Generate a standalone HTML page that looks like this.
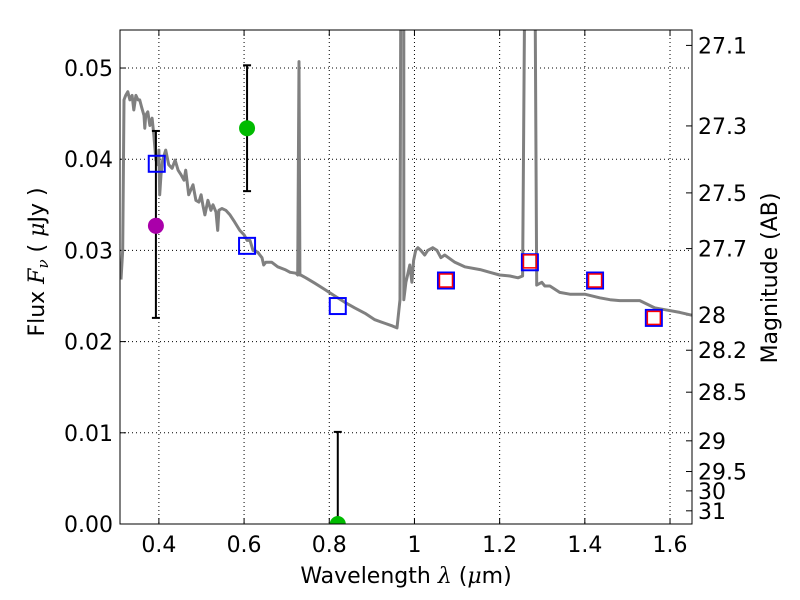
<!DOCTYPE html>
<html><head><meta charset="utf-8"><style>
html,body{margin:0;padding:0;background:#fff;}
svg{display:block;font-family:"DejaVu Sans","Liberation Sans",sans-serif;}
</style></head><body>
<svg id="chart" width="800" height="600" viewBox="0 0 800 600" xmlns="http://www.w3.org/2000/svg"></svg>
<script>
const specLam=[0.311,0.315,0.318,0.322,0.327,0.332,0.337,0.341,0.346,0.351,0.355,0.360,0.365,0.367,0.369,0.374,0.379,0.384,0.388,0.393,0.398,0.400,0.402,0.405,0.409,0.416,0.423,0.431,0.438,0.445,0.452,0.459,0.463,0.470,0.480,0.487,0.494,0.499,0.503,0.508,0.515,0.522,0.527,0.534,0.538,0.541,0.548,0.557,0.567,0.578,0.590,0.600,0.607,0.614,0.621,0.632,0.642,0.646,0.651,0.665,0.679,0.696,0.708,0.722,0.726,0.729,0.731,0.733,0.745,0.766,0.790,0.813,0.837,0.860,0.884,0.907,0.931,0.949,0.959,0.966,0.968,0.975,0.975,0.980,0.984,0.989,0.994,0.998,1.003,1.008,1.015,1.024,1.031,1.043,1.053,1.062,1.071,1.095,1.118,1.154,1.177,1.200,1.224,1.243,1.254,1.259,1.283,1.287,1.299,1.306,1.318,1.341,1.365,1.400,1.435,1.459,1.482,1.529,1.564,1.588,1.623,1.651];
const specFlux=[0.0268,0.0300,0.0465,0.0470,0.0474,0.0465,0.0470,0.0454,0.0470,0.0465,0.0465,0.0456,0.0448,0.0434,0.0448,0.0452,0.0437,0.0445,0.0427,0.0399,0.0394,0.0410,0.0361,0.0383,0.0399,0.0410,0.0394,0.0390,0.0399,0.0388,0.0383,0.0377,0.0388,0.0361,0.0372,0.0355,0.0353,0.0361,0.0350,0.0339,0.0355,0.0344,0.0350,0.0342,0.0322,0.0344,0.0346,0.0344,0.0339,0.0331,0.0322,0.0317,0.0311,0.0311,0.0300,0.0298,0.0292,0.0284,0.0287,0.0287,0.0282,0.0279,0.0276,0.0275,0.0273,0.0507,0.0273,0.0273,0.0270,0.0264,0.0257,0.0250,0.0243,0.0237,0.0231,0.0224,0.0220,0.0217,0.0215,0.0246,0.06,0.06,0.0246,0.0265,0.0273,0.0284,0.0265,0.0289,0.0300,0.0303,0.0300,0.0295,0.0300,0.0303,0.0300,0.0292,0.0295,0.0287,0.0282,0.0279,0.0276,0.0273,0.0272,0.0270,0.0272,0.06,0.06,0.0262,0.0265,0.0261,0.0261,0.0254,0.0252,0.0252,0.0248,0.0246,0.0245,0.0245,0.0237,0.0235,0.0232,0.0229];
const modelLam=[0.395,0.607,0.820,1.074,1.271,1.424,1.562];
const modelFlux=[0.0395,0.0305,0.0239,0.0267,0.0287,0.0267,0.0226];
const obsLam=[1.074,1.271,1.424,1.562];
const obsFlux=[0.0267,0.0288,0.0267,0.0226];
const ptLam=[0.393,0.607,0.820];
const ptFlux=[0.0327,0.0434,0.0];
const ptLo=[0.0226,0.0365,0.0];
const ptHi=[0.0431,0.0503,0.0101];
const ptColor=['#aa00aa','#00bb00','#00bb00'];
const xTicks=[0.4,0.6,0.8,1.0,1.2,1.4,1.6];
const xTickLabels=['0.4','0.6','0.8','1','1.2','1.4','1.6'];
const yTicks=[0,0.01,0.02,0.03,0.04,0.05];
const yTickLabels=['0.00','0.01','0.02','0.03','0.04','0.05'];
const magTicks=[27.1,27.3,27.5,27.7,28,28.2,28.5,29,29.5,30,31];

const L=120,R=692,T=30,B=524;
const xMin=0.3087,xMax=1.6516,yMin=0,yMax=0.05417;
const X=v=>L+(v-xMin)/(xMax-xMin)*(R-L);
const Y=v=>B-(v-yMin)/(yMax-yMin)*(B-T);
const svg=document.getElementById('chart');
const NS='http://www.w3.org/2000/svg';
function mk(tag,attrs,parent){const e=document.createElementNS(NS,tag);for(const k in attrs)e.setAttribute(k,attrs[k]);(parent||svg).appendChild(e);return e;}
const defs=mk('defs',{});const cp=mk('clipPath',{id:'clip'},defs);mk('rect',{x:L,y:T,width:R-L,height:B-T},cp);

xTicks.forEach((t,i)=>{
 const g=mk('line',{x1:X(t),x2:X(t),y1:T,y2:B,stroke:'#000','stroke-width':1,'stroke-dasharray':'1,3'});
 
 
 mk('line',{x1:X(t),x2:X(t),y1:B,y2:B-6,stroke:'#000'});
 mk('line',{x1:X(t),x2:X(t),y1:T,y2:T+6,stroke:'#000'});
 const tx=mk('text',{x:X(t),y:B+28,'text-anchor':'middle','font-size':22});tx.textContent=xTickLabels[i];
 
 
});
yTicks.forEach((t,i)=>{
 const g=mk('line',{x1:L,x2:R,y1:Y(t),y2:Y(t),stroke:'#000','stroke-width':1,'stroke-dasharray':'1,3'});
 
 
 mk('line',{x1:L,x2:L+6,y1:Y(t),y2:Y(t),stroke:'#000'});
 const tx=mk('text',{x:L-7,y:Y(t)+8,'text-anchor':'end','font-size':22});tx.textContent=yTickLabels[i];
 
 
});
magTicks.forEach(m=>{
 const f=Math.pow(10,(23.9-m)/2.5);
 mk('line',{x1:R,x2:R-6,y1:Y(f),y2:Y(f),stroke:'#000'});
 const tx=mk('text',{x:R+6,y:Y(f)+8,'font-size':22});tx.textContent=String(m);
 
 
});

const gp=mk('g',{'clip-path':'url(#clip)'});
let d='';specLam.forEach((l,i)=>{d+=(i?'L':'M')+X(l).toFixed(1)+','+Y(specFlux[i]).toFixed(1);});
const sp=mk('path',{d:d,fill:'none',stroke:'#808080','stroke-width':3,'stroke-linejoin':'round'},gp);



ptLam.forEach((l,i)=>{
 const eb=mk('g',{},gp);
 
 
 mk('line',{x1:X(l),x2:X(l),y1:Y(ptLo[i]),y2:Y(ptHi[i]),stroke:'#000','stroke-width':2},eb);
 [ptLo[i],ptHi[i]].forEach(v=>mk('line',{x1:X(l)-4,x2:X(l)+4,y1:Y(v),y2:Y(v),stroke:'#000','stroke-width':2},eb));
});
modelLam.forEach((l,i)=>{
 const r=mk('rect',{x:X(l)-8,y:Y(modelFlux[i])-8,width:16,height:16,fill:'none',stroke:'#0000ff','stroke-width':2},gp);
 
 
});
obsLam.forEach((l,i)=>{
 const r=mk('rect',{x:X(l)-6.5,y:Y(obsFlux[i])-6.5,width:13,height:13,fill:'none',stroke:'#ff0000','stroke-width':1.5},gp);
 
 
});
ptLam.forEach((l,i)=>{
 const c=mk('circle',{cx:X(l),cy:Y(ptFlux[i]),r:8,fill:ptColor[i]},gp);
 
 
});

const fr=mk('rect',{x:L,y:T,width:R-L,height:B-T,fill:'none',stroke:'#000','stroke-width':1});


</script>
<svg style="position:absolute;left:0;top:0" width="800" height="600">
<text x="406" y="583" text-anchor="middle" font-size="22" font-family="DejaVu Sans, Liberation Sans, sans-serif">Wavelength  <tspan font-family="DejaVu Serif, Liberation Serif, serif" font-style="italic">λ</tspan> (<tspan font-family="DejaVu Serif, Liberation Serif, serif" font-style="italic">μ</tspan>m)</text>
<text transform="translate(44,262) rotate(-90)" text-anchor="middle" font-size="22" font-family="DejaVu Sans, Liberation Sans, sans-serif">Flux  <tspan font-family="DejaVu Serif, Liberation Serif, serif" font-style="italic">F</tspan><tspan font-family="DejaVu Serif, Liberation Serif, serif" font-style="italic" font-size="15" dy="4">ν</tspan><tspan dy="-4">   (  </tspan><tspan font-family="DejaVu Serif, Liberation Serif, serif" font-style="italic">μ</tspan>Jy )</text>
<text transform="translate(777,278) rotate(-90)" text-anchor="middle" font-size="22" font-family="DejaVu Sans, Liberation Sans, sans-serif">Magnitude (AB)</text>
</svg>
</body></html>
